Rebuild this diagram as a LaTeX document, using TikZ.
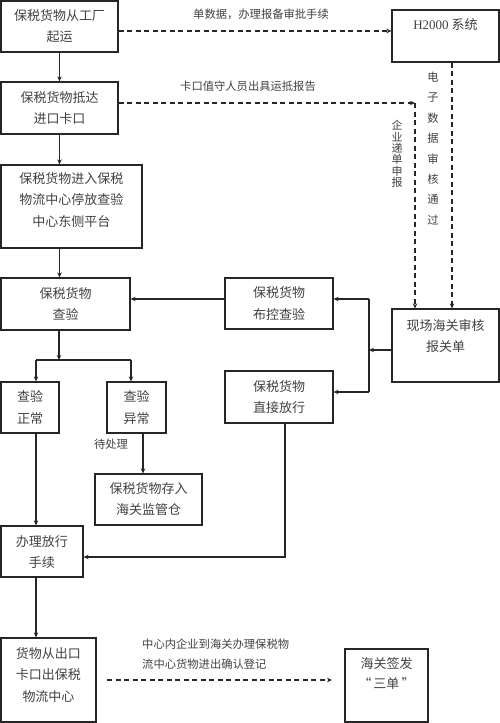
\documentclass[tikz,border=0pt]{standalone}
\usepackage{fontspec}
\setmainfont{Noto Sans CJK SC}
\newfontfamily\latinfont{Liberation Serif}
\usetikzlibrary{arrows.meta}
\begin{document}
\begin{tikzpicture}[x=1pt,y=-1pt,
  box/.style={draw=black!85,line width=1.2pt,inner sep=0pt},
  txt/.style={inner sep=0pt,align=center,font=\fontsize{13}{21.5}\selectfont,text=black!75},
  lbl/.style={inner sep=0pt,align=left,font=\fontsize{11.3}{20}\selectfont,text=black!75},
  vlbl/.style={inner sep=0pt,align=center,text=black!75},
  arr/.style={draw=black!85,line width=1.3pt,-{Stealth[length=5pt,width=4.5pt]}},
  ln/.style={draw=black!85,line width=1.3pt},
  darr/.style={draw=black!85,line width=1.3pt,dash pattern=on 5pt off 3.5pt,-{Stealth[length=5pt,width=4.5pt]}},
  dln/.style={draw=black!85,line width=1.3pt,dash pattern=on 5pt off 3.5pt}]
\useasboundingbox (0,0) rectangle (500,723);

% boxes
\node[box,minimum width=117pt,minimum height=51pt] (b1) at (59.5,26.5) {};
\node[box,minimum width=117pt,minimum height=52pt] (b2) at (59.5,108) {};
\node[box,minimum width=141pt,minimum height=83pt] (b3) at (71.5,206.5) {};
\node[box,minimum width=129pt,minimum height=52pt] (b4) at (65.5,304) {};
\node[box,minimum width=58pt,minimum height=51pt] (b5) at (30,407.5) {};
\node[box,minimum width=59pt,minimum height=51pt] (b6) at (136.5,407.5) {};
\node[box,minimum width=107pt,minimum height=51pt] (b7) at (148.5,499.5) {};
\node[box,minimum width=82pt,minimum height=51pt] (b8) at (42,551.5) {};
\node[box,minimum width=95pt,minimum height=84pt] (b9) at (48.5,680) {};
\node[box,minimum width=83pt,minimum height=73pt] (b10) at (386.5,685.5) {};
\node[box,minimum width=107pt,minimum height=52pt] (b11) at (445.5,36) {};
\node[box,minimum width=108pt,minimum height=51pt] (b12) at (279,303.5) {};
\node[box,minimum width=108pt,minimum height=52pt] (b13) at (279,397) {};
\node[box,minimum width=107pt,minimum height=73pt] (b14) at (445.5,345.5) {};

% box texts
\node[txt] (t1) at (59.5,26) {保税货物从工厂\\起运};
\node[txt] (t2) at (59.5,108) {保税货物抵达\\进口卡口};
\node[txt] (t3) at (71.5,200) {保税货物进入保税\\物流中心停放查验\\中心东侧平台};
\node[txt] (t4) at (65.5,304) {保税货物\\查验};
\node[txt] (t5) at (30,407.5) {查验\\正常};
\node[txt] (t6) at (136.5,407.5) {查验\\异常};
\node[txt] (t7) at (148.5,499) {保税货物存入\\海关监管仓};
\node[txt] (t8) at (42,552) {办理放行\\手续};
\node[txt] (t9) at (48.5,675) {货物从出口\\卡口出保税\\物流中心};
\node[txt,font=\fontsize{13}{19.5}\selectfont] (t10) at (386.5,673.5) {海关签发\\“\,三单\,”};
\node[txt] (t11) at (445.5,25) {{\latinfont H2000} 系统};
\node[txt] (t12) at (279,303.5) {保税货物\\布控查验};
\node[txt] (t13) at (279,397) {保税货物\\直接放行};
\node[txt] (t14) at (445.5,336) {现场海关审核\\报关单};

% coordinates
\coordinate (xa) at (36,360);
\coordinate (xm) at (59,360);
\coordinate (xb) at (131,360);
\coordinate (x67) at (143,0);
\coordinate (r13) at (285,557);
\coordinate (sp) at (369,350);
\coordinate (spt) at (369,299);
\coordinate (spb) at (369,392);
\coordinate (d1) at (0,31);
\coordinate (d2) at (415,103);
\coordinate (d3) at (452,0);
\coordinate (d9s) at (107,680);
\coordinate (d9e) at (332,680);

% solid connectors
\draw[arr] (b2.north |- b1.south) -- (b2.north);
\draw[arr] (b2.south) -- (b2.south |- b3.north);
\draw[arr] (b2.south |- b3.south) -- (b2.south |- b4.north);
\draw[arr] (xm |- b4.south) -- (xm);
\draw[ln] (xa) -- (xb);
\draw[arr] (xa) -- (xa |- b5.north);
\draw[arr] (xb) -- (xb |- b6.north);
\draw[arr] (x67 |- b6.south) -- (x67 |- b7.north);
\draw[arr] (xa |- b5.south) -- (xa |- b8.north);
\draw[arr] (xa |- b8.south) -- (xa |- b9.north);
\draw[arr] (r13 |- b13.south) -- (r13) -- (r13 -| b8.east);
\draw[arr] (sp -| b14.west) -- (sp);
\draw[ln] (spt) -- (spb);
\draw[arr] (spt) -- (spt -| b12.east);
\draw[arr] (spb) -- (spb -| b13.east);
\draw[arr] (spt -| b12.west) -- (spt -| b4.east);

% dashed connectors
\draw[darr] (d1 -| b1.east) -- (d1 -| b11.west);
\draw[darr] (d2 -| b2.east) -- (d2);
\draw[darr] (d2) -- (d2 |- b14.north);
\draw[darr] (d3 |- b11.south) -- (d3 |- b14.north);
\draw[darr] (d9s) -- (d9e);

% labels
\node[lbl] (l1) at (261,14) {单数据，办理报备审批手续};
\node[lbl] (l2) at (248,86) {卡口值守人员出具运抵报告};
\node[vlbl,font=\fontsize{11}{11.4}\selectfont] (l3) at (397,154) {企\\业\\递\\单\\申\\报};
\node[vlbl,font=\fontsize{11.3}{20.4}\selectfont] (l4) at (433,148.5) {电\\子\\数\\据\\审\\核\\通\\过};
\node[lbl] (l5) at (111,444) {待处理};
\node[lbl,anchor=west] (l6) at (142,644) {中心内企业到海关办理保税物};
\node[lbl,anchor=west] (l7) at (142,664) {流中心货物进出确认登记};
\end{tikzpicture}
\end{document}
